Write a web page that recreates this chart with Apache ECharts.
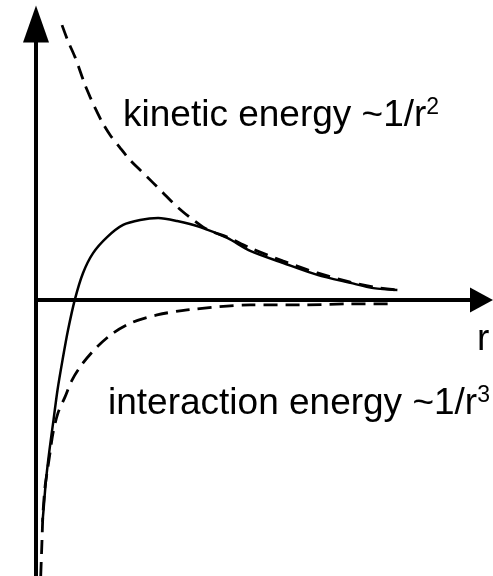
<!DOCTYPE html>
<html>
<head>
<meta charset="utf-8">
<script src="https://cdn.jsdelivr.net/npm/echarts@6/dist/echarts.min.js"></script>
<style>
  html, body { margin: 0; padding: 0; background: #fff; }
  #chart { width: 493px; height: 576px; }
</style>
</head>
<body>
<div id="chart"></div>
<script>
// total energy (solid)
var totalR = [0.146, 0.169, 0.225, 0.303, 0.393, 0.483, 0.596, 0.719, 0.876, 1.056, 1.281, 1.596, 1.955, 2.337, 2.742, 3.169, 3.685, 4.292, 4.809, 5.551, 6.315, 7.056, 7.573, 8.112];
var totalE = [-8.04, -7.61, -6.52, -5.43, -4.35, -3.26, -2.17, -1.09, 0.04, 0.98, 1.70, 2.28, 2.72, 2.90, 2.97, 2.86, 2.64, 2.25, 1.78, 1.34, 0.91, 0.62, 0.43, 0.36];

// kinetic energy ~1/r^2 (dashed, top)
var kineticR = [0.584, 0.719, 0.876, 0.989, 1.101, 1.213, 1.326, 1.483, 1.663, 1.888, 2.112, 2.337, 2.607, 2.854, 3.079, 3.303, 3.528, 3.753, 3.978, 4.292, 4.809, 5.551, 6.315, 7.056, 7.573, 8.112];
var kineticE = [9.96, 9.38, 8.80, 8.30, 7.79, 7.36, 6.96, 6.45, 5.98, 5.51, 5.07, 4.71, 4.28, 3.88, 3.51, 3.19, 2.90, 2.64, 2.46, 2.28, 1.88, 1.41, 0.98, 0.65, 0.47, 0.36];

// interaction energy ~1/r^3 (dashed, bottom)
var interactionR = [0.106, 0.135, 0.157, 0.202, 0.247, 0.315, 0.382, 0.494, 0.652, 0.809, 1.056, 1.371, 1.730, 2.180, 2.719, 3.393, 4.809, 5.933, 7.056, 8.022];
var interactionE = [-10.0, -8.70, -7.72, -6.78, -6.27, -5.54, -4.82, -4.09, -3.51, -2.90, -2.28, -1.70, -1.20, -0.80, -0.54, -0.36, -0.18, -0.18, -0.14, -0.14];

var kineticLabel = "kinetic energy ~1/r";
var interactionLabel = "interaction energy ~1/r";
var axisName = "r";

function pairs(xs, ys) {
  return xs.map(function (x, i) {
    return [x, ys[i]];
  });
}

var fontFamily = "'Liberation Sans', Arial, sans-serif";
var richStyle = {
  a: { fontSize: 37, fontFamily: fontFamily, color: "#000", lineHeight: 40 },
  s: { fontSize: 23, fontFamily: fontFamily, color: "#000", lineHeight: 20, verticalAlign: "top" },
};

var chart = echarts.init(document.getElementById("chart"));
chart.setOption({
  animation: false,
  grid: {
    left: 36,
    right: 11.5,
    top: 24,
    bottom: 0,
  },
  xAxis: {
    type: "value",
    min: 0,
    max: 10,
    axisLine: {
      show: true,
      symbol: ["none", "triangle"],
      symbolSize: [25, 23],
      lineStyle: { color: "#000", width: 4 },
    },
    axisTick: { show: false },
    axisLabel: { show: false },
    splitLine: { show: false },
  },
  yAxis: {
    type: "value",
    min: -10,
    max: 10,
    axisLine: {
      show: true,
      symbol: ["none", "triangle"],
      symbolSize: [26, 37],
      lineStyle: { color: "#000", width: 4 },
    },
    axisTick: { show: false },
    axisLabel: { show: false },
    splitLine: { show: false },
  },
  series: [
    {
      name: "total",
      type: "line",
      data: pairs(totalR, totalE),
      smooth: 0.3,
      showSymbol: false,
      lineStyle: { color: "#000", width: 2.5 },
    },
    {
      name: "kinetic",
      type: "line",
      data: pairs(kineticR, kineticE),
      smooth: 0.3,
      showSymbol: false,
      lineStyle: { color: "#000", width: 2.8, type: [14, 8] },
    },
    {
      name: "interaction",
      type: "line",
      data: pairs(interactionR, interactionE),
      smooth: 0.3,
      showSymbol: false,
      lineStyle: { color: "#000", width: 2.8, type: [14, 8] },
    },
  ],
  graphic: [
    {
      type: "text",
      left: 123,
      top: 96,
      style: {
        text: "{a|" + kineticLabel + "}{s|2}",
        rich: richStyle,
      },
    },
    {
      type: "text",
      left: 108,
      top: 384,
      style: {
        text: "{a|" + interactionLabel + "}{s|3}",
        rich: richStyle,
      },
    },
    {
      type: "text",
      left: 477,
      top: 321,
      style: {
        text: axisName,
        fontSize: 37,
        fontFamily: fontFamily,
        fill: "#000",
      },
    },
  ],
});
</script>
</body>
</html>
